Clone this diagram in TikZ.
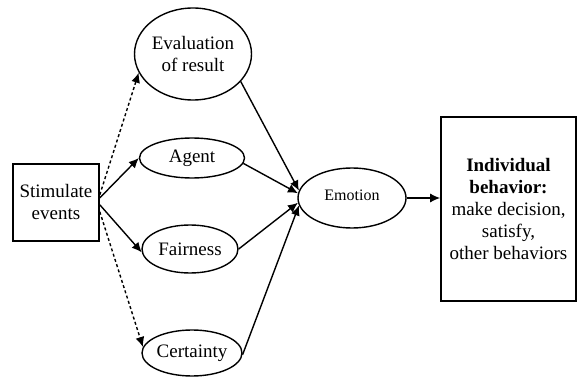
\documentclass[tikz,border=0pt]{standalone}
\usepackage{fontspec}
\setmainfont{Liberation Serif}
\usetikzlibrary{arrows.meta,shapes.geometric}
\begin{document}
\begin{tikzpicture}[x=1pt,y=-1pt,
  every node/.style={font=\fontsize{19}{22}\selectfont, align=center, inner sep=0pt},
  ell/.style={draw, ellipse, line width=1.4pt},
  boxn/.style={draw, rectangle, line width=1.6pt},
  arr/.style={line width=1.4pt, -{Latex[length=10pt,width=9pt]}},
  dotarr/.style={arr, dash pattern=on 3pt off 2.5pt}]
\useasboundingbox (0,0) rectangle (584,377);
\node[boxn, minimum width=86pt, minimum height=77pt] (stim) at (56,202.5) {Stimulate\\events};
\node[ell, minimum width=117pt, minimum height=92pt] (eval) at (193,54) {Evaluation\\of result};
\node[ell, minimum width=105pt, minimum height=40pt] (agent) at (192,158) {Agent};
\node[ell, minimum width=96pt, minimum height=48pt] (fair) at (190,249) {Fairness};
\node[ell, minimum width=98pt, minimum height=46pt] (cert) at (192,353) {Certainty};
\node[ell, minimum width=108pt, minimum height=60pt, font=\fontsize{16}{19}\selectfont] (emo) at (352,198) {\raisebox{6pt}{Emotion}};
\node[boxn, minimum width=135pt, minimum height=184pt] (beh) at (508.5,209) {\textbf{Individual}\\\textbf{behavior:}\\make decision,\\satisfy,\\other behaviors};
\draw[dotarr] (stim.10) -- (eval.199);
\draw[arr] (stim.6) -- (agent.west);
\draw[arr] (stim.-3) -- (fair.184);
\draw[dotarr] (stim.-12) -- (cert.173);
\draw[arr] (eval.-30) -- (emo.172);
\draw[arr] (agent.-6) -- (emo.175);
\draw[arr] (fair.east) -- (emo.185);
\draw[arr] (cert.-2) -- (emo.188);
\draw[arr] (emo.east) -- (beh.west |- emo.east);
\end{tikzpicture}
\end{document}
